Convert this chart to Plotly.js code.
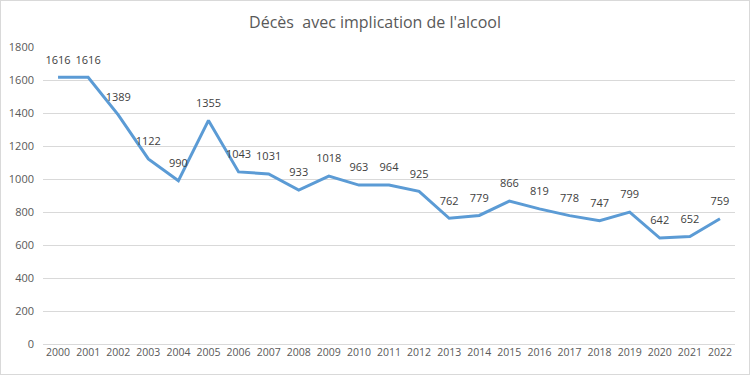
<!DOCTYPE html>
<html><head><meta charset="utf-8">
<script src="https://cdn.plot.ly/plotly-3.0.1.min.js"></script>
<style>
html,body{margin:0;padding:0;background:#fff;}
#wrap{position:relative;width:750px;height:375px;}
#chart{position:absolute;left:0;top:0;width:750px;height:375px;}
#frame{position:absolute;left:0;top:0;width:748px;height:373px;border:1px solid #d9d9d9;pointer-events:none;}
</style></head>
<body>
<div id="wrap"><div id="chart"></div><div id="frame"></div></div>
<script>
const years = ["2000","2001","2002","2003","2004","2005","2006","2007","2008","2009","2010","2011","2012","2013","2014","2015","2016","2017","2018","2019","2020","2021","2022"];
const deaths = [1616,1616,1389,1122,990,1355,1043,1031,933,1018,963,964,925,762,779,866,819,778,747,799,642,652,759];
const yTicks = [0,200,400,600,800,1000,1200,1400,1600,1800];
const titleText = "Décès&nbsp; avec implication de l'alcool";

const font = "Open Sans, Liberation Sans, sans-serif";
Plotly.newPlot('chart', [{
  type: 'scatter', mode: 'lines+markers+text',
  x: years, y: deaths,
  text: deaths.map(String),
  textposition: 'top center',
  textfont: {family: font, size: 11, color: '#404040'},
  line: {color: '#5B9BD5', width: 3},
  marker: {size: 16, opacity: 0, color: '#5B9BD5'},
  hoverinfo: 'none', cliponaxis: false
}], {
  width: 750, height: 375,
  margin: {l: 43, r: 15, t: 47, b: 31},
  paper_bgcolor: '#fff', plot_bgcolor: '#fff',
  showlegend: false,
  title: {text: titleText, x: 0.5, xanchor: 'center', y: 0.94, yanchor: 'middle',
          font: {family: font, size: 16, color: '#595959'}},
  xaxis: {type: 'category', range: [-0.5, 22.5], showgrid: false, zeroline: false, showline: false,
          ticks: '', tickfont: {family: font, size: 10.5, color: '#595959'}, fixedrange: true},
  yaxis: {range: [0, 1800], tickvals: yTicks, showgrid: true, gridcolor: '#d9d9d9', gridwidth: 1,
          zeroline: true, zerolinecolor: '#d9d9d9', zerolinewidth: 1, showline: false,
          ticks: '', ticklabelstandoff: 8,
          tickfont: {family: font, size: 11, color: '#595959'}, fixedrange: true}
}, {displayModeBar: false, staticPlot: true});
</script>
</body></html>
